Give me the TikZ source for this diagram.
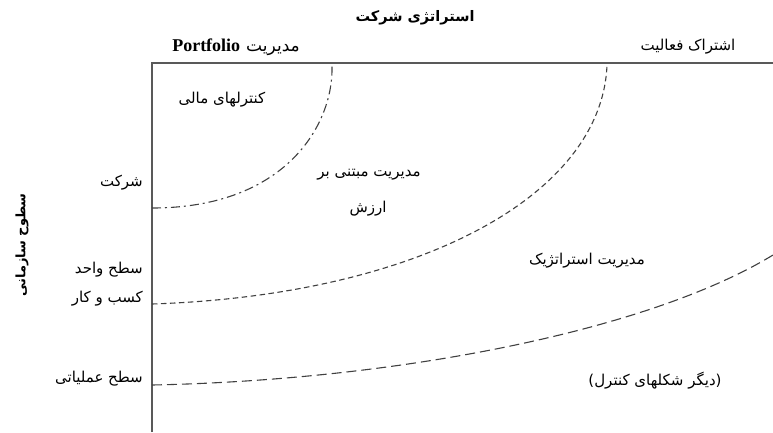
\documentclass[tikz,border=0pt]{standalone}
\usepackage{fontspec}
\setmainfont{Liberation Serif}
\newfontfamily\arabicfont[Script=Arabic]{DejaVu Sans}
\TeXXeTstate=1
\begin{document}
\begin{tikzpicture}[x=1pt,y=-1pt,
  fa/.style={font=\fontsize{15}{17}\selectfont\arabicfont, inner sep=1pt},
  fab/.style={font=\fontsize{14.5}{17}\selectfont\arabicfont\bfseries, inner sep=1pt},
  frame/.style={draw=black!65, line width=1.5pt},
  curveA/.style={draw=black!75, line width=1.1pt, dash pattern=on 9pt off 4pt on 2pt off 4pt},
  curveB/.style={draw=black!75, line width=1.1pt, dash pattern=on 5.5pt off 3.5pt},
  curveC/.style={draw=black!75, line width=1.1pt, dash pattern=on 10pt off 5pt}
]
\useasboundingbox (0,0) rectangle (773,432);
% frame
\coordinate (tl) at (152,63);
\coordinate (tr) at (773,63);
\coordinate (bl) at (152,432);
\draw[frame] (bl) -- (tl) -- (tr);
% curve end points
\coordinate (a0) at (152,208); \coordinate (a1) at (332,65);
\coordinate (b0) at (152,304); \coordinate (b1) at (607,65);
\coordinate (c0) at (152,385); \coordinate (c1) at (773,255);
% curves
\draw[curveA] (a0) .. controls (285,208) and (334,125) .. (a1);
\draw[curveB] (b0) .. controls (420,295) and (602,195) .. (b1);
\draw[curveC] (c0) .. controls (400,380) and (650,330) .. (c1);
% top labels
\node[fab] (title) at (415,18) {\beginR استراتژی شرکت\endR};
\node[fa, anchor=east] (portf) at (301,47) {{\fontsize{18}{20}\selectfont\rmfamily\bfseries Portfolio}\hspace{6pt}{\fontsize{17}{19}\selectfont\beginR مدیریت\endR}};
\node[fa] (share) at (688,47) {\beginR اشتراک فعالیت\endR};
% left labels
\node[fab, font=\fontsize{13}{15}\selectfont\arabicfont\bfseries, rotate=90] (org) at (22,245) {\beginR سطوح سازمانی\endR};
\node[fa, anchor=east] (corp) at (144,183) {\beginR شرکت\endR};
\node[fa, anchor=east] (bu1) at (144,270) {\beginR سطح واحد\endR};
\node[fa, anchor=east] (bu2) at (144,299) {\beginR کسب و کار\endR};
\node[fa, anchor=east] (ops) at (144,379) {\beginR سطح عملیاتی\endR};
% region labels
\node[fa] (fin) at (222,100) {\beginR کنترلهای مالی\endR};
\node[fa] (vbm1) at (369,175) {\beginR مدیریت مبتنی بر\endR};
\node[fa] (vbm2) at (368,209) {\beginR ارزش\endR};
\node[fa] (sm) at (587,261) {\beginR مدیریت استراتژیک\endR};
\node[fa] (other) at (655,381) {\beginR (دیگر شکلهای کنترل)\endR};
\end{tikzpicture}
\end{document}
